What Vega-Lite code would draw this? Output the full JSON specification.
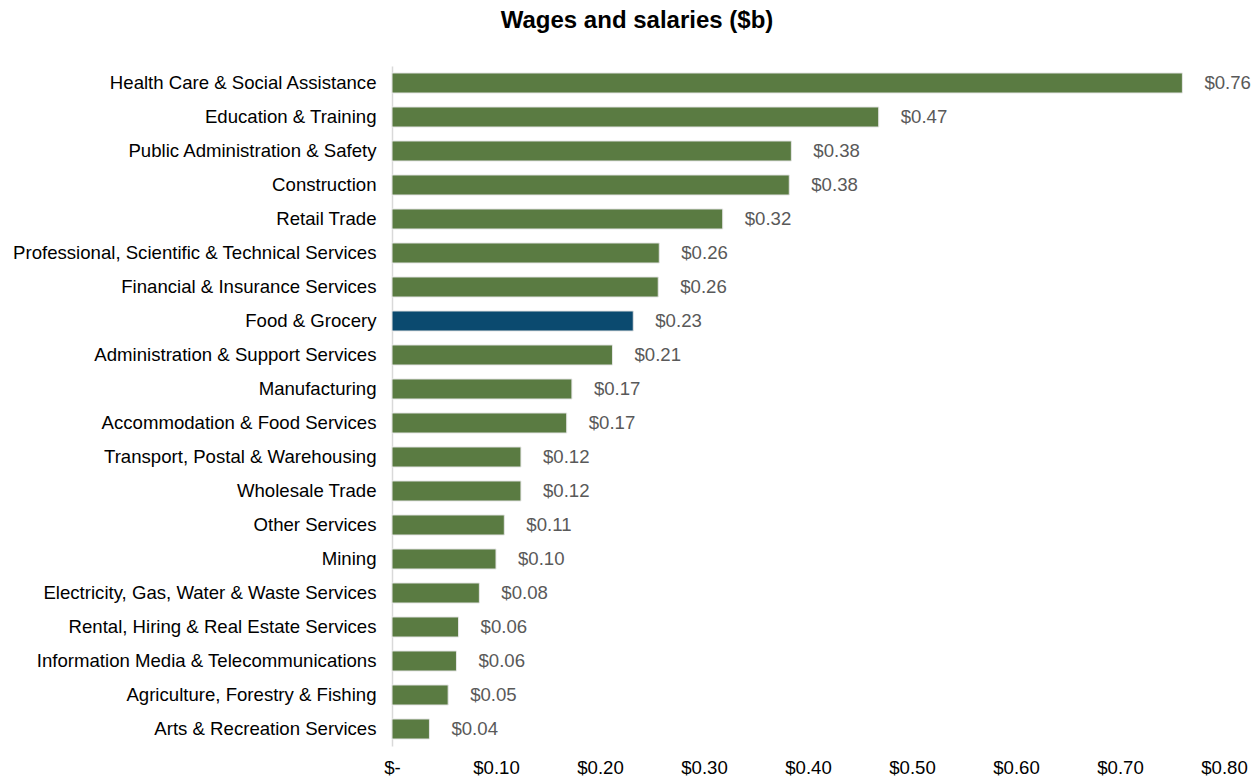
{
  "$schema": "https://vega.github.io/schema/vega-lite/v6.json",
  "autosize": {"type": "none"},
  "width": 832,
  "height": 680,
  "padding": {"left": 392, "top": 66, "right": 35, "bottom": 34},
  "background": "white",
  "title": {
    "text": "Wages and salaries ($b)",
    "font": "Liberation Sans",
    "fontSize": 24,
    "fontWeight": "bold",
    "color": "#000000",
    "anchor": "middle",
    "frame": "group",
    "dx": -171,
    "offset": 33
  },
  "config": {
    "view": {"stroke": null},
    "font": "Liberation Sans"
  },
  "data": {
    "values": [
      {"industry": "Health Care & Social Assistance", "wages": 0.760},
      {"industry": "Education & Training", "wages": 0.468},
      {"industry": "Public Administration & Safety", "wages": 0.384},
      {"industry": "Construction", "wages": 0.382},
      {"industry": "Retail Trade", "wages": 0.318},
      {"industry": "Professional, Scientific & Technical Services", "wages": 0.257},
      {"industry": "Financial & Insurance Services", "wages": 0.256},
      {"industry": "Food & Grocery", "wages": 0.232},
      {"industry": "Administration & Support Services", "wages": 0.212},
      {"industry": "Manufacturing", "wages": 0.173},
      {"industry": "Accommodation & Food Services", "wages": 0.168},
      {"industry": "Transport, Postal & Warehousing", "wages": 0.124},
      {"industry": "Wholesale Trade", "wages": 0.124},
      {"industry": "Other Services", "wages": 0.108},
      {"industry": "Mining", "wages": 0.100},
      {"industry": "Electricity, Gas, Water & Waste Services", "wages": 0.084},
      {"industry": "Rental, Hiring & Real Estate Services", "wages": 0.064},
      {"industry": "Information Media & Telecommunications", "wages": 0.062},
      {"industry": "Agriculture, Forestry & Fishing", "wages": 0.054},
      {"industry": "Arts & Recreation Services", "wages": 0.036}
    ]
  },
  "encoding": {
    "y": {
      "field": "industry",
      "type": "nominal",
      "sort": null,
      "scale": {"paddingInner": 0.41, "paddingOuter": 0.205},
      "axis": {
        "title": null,
        "ticks": false,
        "domain": true,
        "domainColor": "#d9d9d9",
        "domainWidth": 1.5,
        "labelFont": "Liberation Sans",
        "labelFontSize": 18.6,
        "labelColor": "#000000",
        "labelPadding": 16,
        "labelLimit": 400
      }
    },
    "x": {
      "field": "wages",
      "type": "quantitative",
      "scale": {"domain": [0, 0.8], "nice": false},
      "axis": {
        "title": null,
        "values": [0, 0.1, 0.2, 0.3, 0.4, 0.5, 0.6, 0.7, 0.8],
        "labelExpr": "datum.value == 0 ? '$-' : '$' + format(datum.value, '.2f')",
        "grid": false,
        "domain": false,
        "ticks": false,
        "labelFont": "Liberation Sans",
        "labelFontSize": 18.6,
        "labelColor": "#000000",
        "labelPadding": 12,
        "labelFlush": false
      }
    }
  },
  "layer": [
    {
      "mark": {"type": "bar", "stroke": "#e6e6e6", "strokeWidth": 1},
      "encoding": {
        "color": {
          "condition": {"test": "datum.industry === 'Food & Grocery'", "value": "#0b4a6f"},
          "value": "#5a7b42"
        }
      }
    },
    {
      "mark": {"type": "text", "align": "left", "baseline": "middle", "dx": 22, "fontSize": 18.6, "color": "#595959", "font": "Liberation Sans"},
      "encoding": {
        "text": {"field": "wages", "type": "quantitative", "format": "$.2f"}
      }
    }
  ]
}
